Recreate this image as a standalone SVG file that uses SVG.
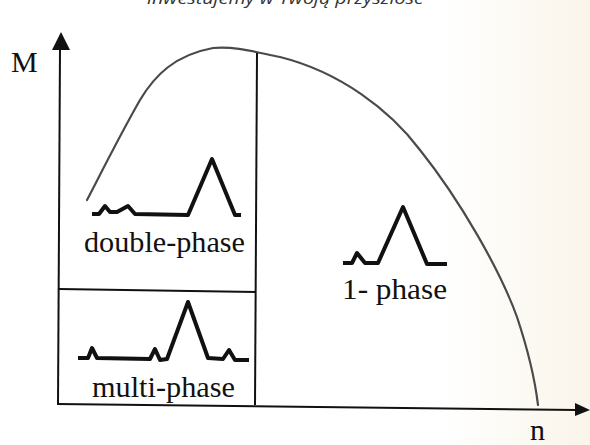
<svg xmlns="http://www.w3.org/2000/svg" width="590" height="445" viewBox="0 0 590 445">
  <defs>
    <linearGradient id="bg" x1="0" y1="0" x2="1" y2="0">
      <stop offset="0" stop-color="#ffffff"/>
      <stop offset="0.75" stop-color="#ffffff"/>
      <stop offset="1" stop-color="#faf5ea"/>
    </linearGradient>
    <style>
      .axis { stroke: #111; stroke-width: 2; fill: none; }
      .div { stroke: #111; stroke-width: 2; fill: none; }
      .curve { stroke: #4a4a4a; stroke-width: 2.2; fill: none; stroke-linecap: round; }
      .wave { stroke: #111; stroke-width: 4; fill: none; stroke-linejoin: round; stroke-linecap: butt; }
      .lbl { font-family: "Liberation Serif", "Times New Roman", serif; font-size: 30px; fill: #111; }
      .head { font-family: "Open Sans", "Noto Sans", sans-serif; font-style: italic; font-size: 17px; fill: #333; }
    </style>
  </defs>
  <rect x="0" y="0" width="590" height="445" fill="url(#bg)"/>

  <text class="head" x="147" y="4" textLength="276" lengthAdjust="spacingAndGlyphs">inwestujemy w Twoją przyszłość</text>

  <g id="axes">
    <line class="axis" x1="60" y1="48" x2="58" y2="405"/>
    <polygon points="61,32 52,50 70,50" fill="#111"/>
    <line class="axis" x1="57" y1="404" x2="577" y2="410"/>
    <polygon points="590,410 575,403 575,416" fill="#111"/>
    <text class="lbl" x="11" y="72">M</text>
    <text class="lbl" x="530" y="440">n</text>
  </g>

  <g id="curve">
    <path class="curve" d="M87,200 C100,175 120,135 140,100 C155,75 175,55 213,48 C235,46 255,52 280,57 C340,72 390,110 420,150 C460,200 500,270 517,317 C528,350 535,380 538,405"/>
  </g>

  <g id="connectors">
    <line class="div" x1="257" y1="53" x2="255" y2="405"/>
    <line class="div" x1="59" y1="289" x2="256" y2="292"/>
  </g>

  <g id="double-phase">
    <polyline class="wave" points="92,214 99,214 105,206 110,212 117,212 128,206 135,214 188,215 212,159 235,215 241,215"/>
    <text class="lbl" x="84" y="252" textLength="161" lengthAdjust="spacingAndGlyphs">double-phase</text>
  </g>

  <g id="multi-phase">
    <polyline class="wave" points="78,358 88,358 92,348 97,358 150,359 155,349 160,360 167,359 188,302 208,358 223,359 229,350 235,360 249,360"/>
    <text class="lbl" x="92" y="397" textLength="143" lengthAdjust="spacingAndGlyphs">multi-phase</text>
  </g>

  <g id="one-phase">
    <polyline class="wave" points="343,263 352,263 357,253 365,263 378,263 403,207 427,264 447,264"/>
    <text class="lbl" x="342" y="299" textLength="105" lengthAdjust="spacingAndGlyphs">1- phase</text>
  </g>
</svg>
